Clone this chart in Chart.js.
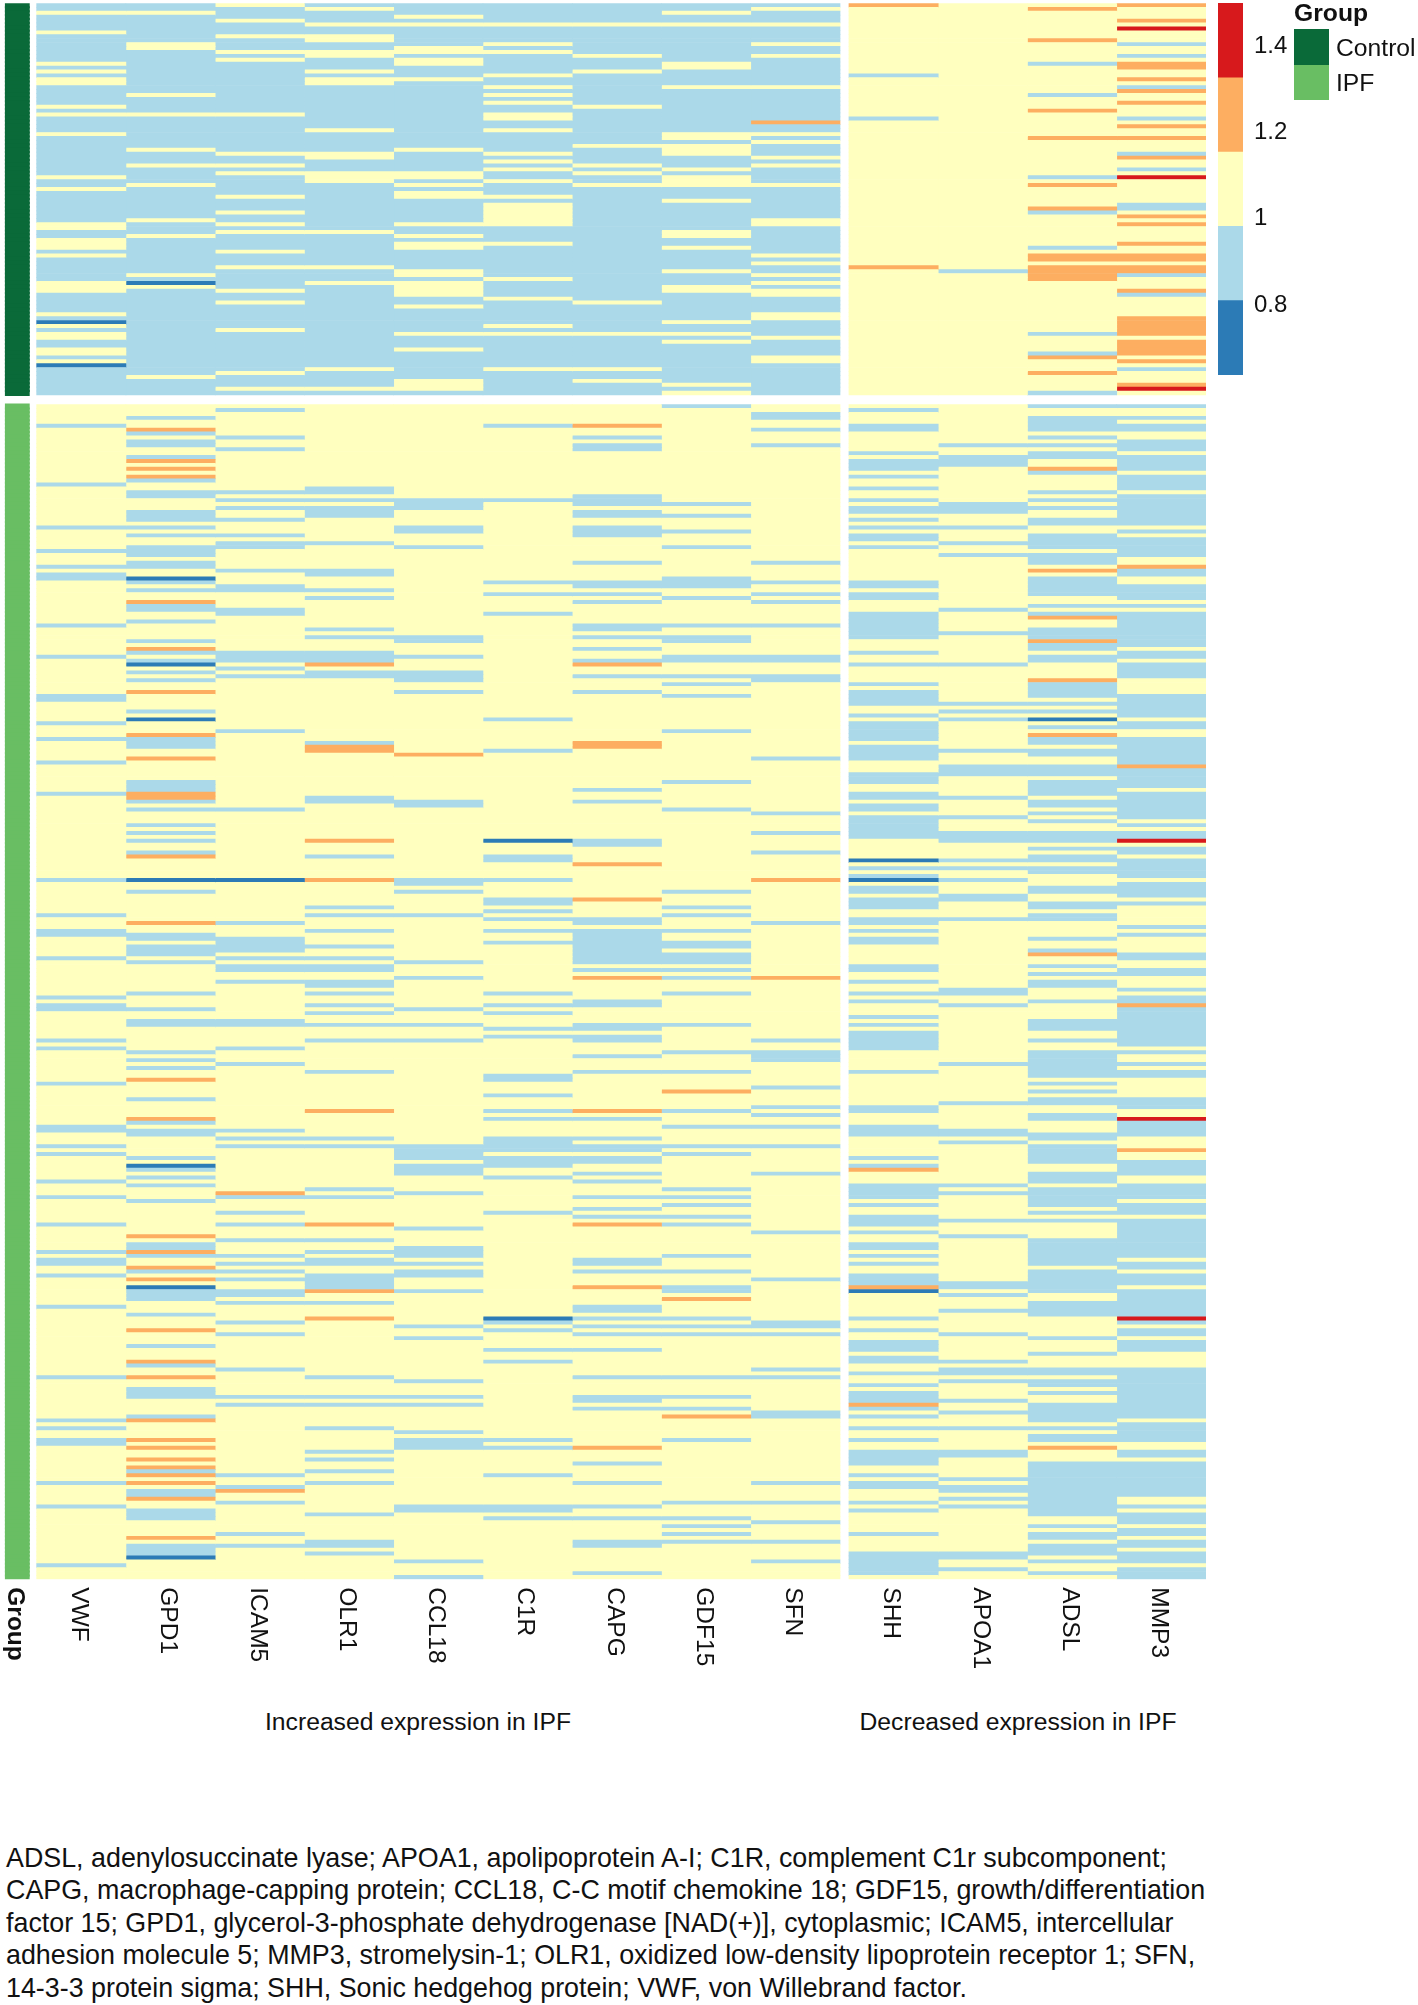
<!DOCTYPE html>
<html><head><meta charset="utf-8">
<script src="https://cdn.jsdelivr.net/npm/chart.js@4"></script>
<style>
html,body{margin:0;padding:0;background:#fff}
#page{position:relative;width:1418px;height:2005px;overflow:hidden;font-family:"Liberation Sans",Arial,sans-serif;color:#111}
canvas{position:absolute}
.t{position:absolute;white-space:nowrap;font-size:24.7px;line-height:30px}
.f{font-size:26.85px}
.b{position:absolute}
</style></head><body><div id="page">
<canvas id="heat" width="1418" height="1700" style="left:0;top:0"></canvas>
<canvas id="bar" width="80" height="372" style="left:1217.5px;top:3px"></canvas>
<div class="t" style="left:1294px;top:-2px;font-weight:bold">Group</div>
<div class="b" style="left:1294px;top:29px;width:35px;height:36px;background:#0a6a39"></div>
<div class="b" style="left:1294px;top:65px;width:35px;height:35px;background:#69be63"></div>
<div class="t" style="left:1336px;top:33px">Control</div>
<div class="t" style="left:1336px;top:68px">IPF</div>
<div class="t" style="left:418px;top:1707px;transform:translateX(-50%)">Increased expression in IPF</div>
<div class="t" style="left:1018px;top:1707px;transform:translateX(-50%)">Decreased expression in IPF</div>
<div class="t f" style="left:6px;top:1843px">ADSL, adenylosuccinate lyase; APOA1, apolipoprotein A-I; C1R, complement C1r subcomponent;</div>
<div class="t f" style="left:6px;top:1875px">CAPG, macrophage-capping protein; CCL18, C-C motif chemokine 18; GDF15, growth/differentiation</div>
<div class="t f" style="left:6px;top:1908px">factor 15; GPD1, glycerol-3-phosphate dehydrogenase [NAD(+)], cytoplasmic; ICAM5, intercellular</div>
<div class="t f" style="left:6px;top:1940px">adhesion molecule 5; MMP3, stromelysin-1; OLR1, oxidized low-density lipoprotein receptor 1; SFN,</div>
<div class="t f" style="left:6px;top:1973px">14-3-3 protein sigma; SHH, Sonic hedgehog protein; VWF, von Willebrand factor.</div>
</div>
<script>
const leftGenes = ["VWF","GPD1","ICAM5","OLR1","CCL18","C1R","CAPG","GDF15","SFN"];
const rightGenes = ["SHH","APOA1","ADSL","MMP3"];
const colorBreaks = [0.636,0.808,0.98,1.152,1.324,1.497];
const colorSteps = ["#2c7bb6","#abd9e9","#ffffbf","#fdae61","#d7191c"];
const colorTicks = [0.8,1,1.2,1.4];
const LOW=0.72, BLUE=0.9, MID=1.05, HIGH=1.24, TOP=1.41;
const CONTROL_ROWS=100, IPF_ROWS=300;

// Control samples: row numbers that differ from the panel's usual level
const VWF_c_mid=[2,7,15,17,19,20,26,28,33,44,47,56,57,60,61,62,64,71,72,73,79,82,84,85,88,89,91];
const VWF_c_low=[81,92];
const GPD1_c_mid=[2,10,11,23,28,37,41,46,55,59,69,72,95];
const GPD1_c_low=[71];
const ICAM5_c_mid=[0,4,8,12,14,28,38,41,43,49,53,56,58,63,67,73,76,83,94,98];
const OLR1_c_mid=[1,5,8,9,12,13,17,19,20,32,38,39,43,44,45,58,67,71,93,98];
const CCL18_c_mid=[3,5,11,12,14,15,19,37,43,44,46,48,49,56,59,61,62,68,69,71,72,73,74,77,84,88,96,97,98];
const C1R_c_mid=[5,10,12,18,21,23,25,28,29,32,38,40,42,45,49,51,52,53,54,55,56,61,70,75,82,84,93];
const CAPG_c_mid=[5,13,17,26,36,41,43,46,76,84,93,96];
const GDF15_c_mid=[2,5,15,16,21,33,34,36,37,38,42,44,45,46,50,58,59,62,68,72,73,81,84,86,97,99];
const SFN_c_mid=[1,5,10,13,21,33,35,39,41,46,55,56,64,66,69,71,73,74,79,80,85,90,91];
const SFN_c_high=[30];
const SHH_c_blue=[18,29];
const SHH_c_high=[0,67];
const APOA1_c_blue=[68];
const ADSL_c_blue=[15,23,44,53,62,84,89,99];
const ADSL_c_high=[1,9,27,34,46,52,64,65,67,68,69,70,90,94];
const MMP3_c_blue=[10,13,21,29,38,42,51,52,69,74,93];
const MMP3_c_high=[0,4,15,16,19,22,25,31,34,39,54,56,61,64,65,67,68,73,80,81,82,83,84,86,87,88,89,91,97];
const MMP3_c_top=[6,44,98];

// IPF samples
const VWF_i_blue=[5,20,31,37,41,43,44,56,64,74,75,81,85,91,99,121,130,134,135,141,151,153,154,162,164,173,184,185,189,191,198,202,209,216,218,219,222,230,248,259,261,264,265,275,281,296];
const GPD1_i_blue=[3,7,9,10,13,19,22,23,27,28,29,31,33,36,37,38,40,41,45,47,51,52,55,60,63,65,68,70,78,85,86,87,96,97,98,101,103,107,109,111,114,124,135,136,138,139,140,142,150,154,157,158,165,167,169,177,183,185,186,192,195,197,199,203,214,215,217,221,226,227,228,232,240,245,251,252,253,258,272,277,278,282,283,284,291,292,293];
const GPD1_i_low=[44,66,80,121,194,225,294];
const GPD1_i_high=[6,14,16,18,50,62,73,84,90,99,100,115,132,172,182,212,216,220,223,236,244,248,259,264,266,269,271,273,275,279,289];
const ICAM5_i_blue=[1,8,11,22,24,26,29,33,35,36,42,46,47,52,53,63,64,65,67,69,83,103,132,136,137,138,139,141,143,144,147,157,158,164,168,185,187,189,202,206,209,213,217,219,221,223,226,227,229,234,237,246,253,255,273,276,280,288,291];
const ICAM5_i_low=[121];
const ICAM5_i_high=[201,277];
const OLR1_i_blue=[21,22,24,26,27,28,35,42,43,47,49,57,59,63,64,65,68,69,86,100,101,115,128,130,134,138,141,143,144,147,148,150,153,155,158,162,170,187,189,200,202,213,216,218,219,222,223,224,225,229,248,253,255,261,267,269,272,275,283,290,291,293];
const OLR1_i_high=[66,87,88,111,121,180,209,226,233];
const CCL18_i_blue=[24,25,26,31,32,36,59,60,64,68,69,70,73,101,102,121,122,124,130,142,146,154,158,162,189,190,191,192,194,195,196,201,210,215,216,217,219,221,222,226,235,238,249,253,255,262,264,265,266,281,282,295,299];
const CCL18_i_high=[89];
const C1R_i_blue=[5,24,45,48,53,80,88,115,116,121,126,127,129,131,134,137,150,153,155,159,161,171,172,176,180,182,187,188,189,190,192,193,194,197,206,234,236,241,244,264,266,273,281,282,284];
const C1R_i_low=[111,233];
const CAPG_i_blue=[8,10,11,23,24,25,27,28,31,32,33,40,45,46,48,50,56,57,59,62,65,69,73,98,101,111,112,131,132,134,135,136,137,138,139,140,141,142,144,152,153,158,159,161,162,166,170,182,187,189,190,192,193,196,198,202,205,207,218,219,221,230,231,233,235,237,241,248,253,254,256,270,275,281,284,290,291,298];
const CAPG_i_high=[5,66,86,87,117,126,146,180,209,225,266];
const GDF15_i_blue=[0,25,28,32,36,44,45,46,49,56,59,60,64,65,69,71,74,83,96,103,124,128,130,134,137,138,140,141,142,144,146,150,158,165,170,180,184,189,191,200,202,204,207,209,217,221,225,226,233,235,237,248,253,256,264,280,284,286,288,290];
const GDF15_i_high=[175,228,258];
const SFN_i_blue=[2,3,6,10,40,45,48,50,56,64,65,69,70,90,104,109,114,132,162,165,166,167,174,179,181,184,189,196,211,223,234,235,237,246,248,257,258,275,280,285,290,295];
const SFN_i_high=[121,146];
const SHH_i_blue=[1,5,6,12,14,15,16,18,21,24,26,27,29,31,33,34,36,45,46,48,49,53,54,55,56,57,58,59,63,66,71,73,74,75,76,79,81,82,83,84,85,87,88,89,90,94,95,96,99,100,102,103,105,106,107,108,109,110,118,120,123,124,126,127,128,131,132,134,136,137,143,144,147,150,152,156,158,160,161,162,163,164,170,179,180,184,185,186,192,194,199,200,201,202,204,207,208,209,211,214,215,217,219,222,223,224,233,236,239,240,241,243,244,247,250,252,253,254,256,258,261,264,267,268,269,270,273,275,276,280,282,288,293,294,295,296,297,298];
const SHH_i_low=[116,121,226];
const SHH_i_high=[195,225,255];
const APOA1_i_blue=[10,13,14,15,25,26,27,31,35,38,52,58,66,76,78,80,88,92,93,94,100,105,109,110,111,116,118,121,125,126,131,149,150,153,168,178,185,186,188,199,201,208,212,224,225,227,231,237,244,246,247,249,254,257,261,267,268,274,276,277,279,281,293,294,297];
const ADSL_i_blue=[0,3,4,5,6,8,10,12,13,17,22,24,26,29,30,33,34,35,36,38,39,40,44,45,46,47,48,51,53,57,58,59,61,62,64,65,71,72,73,74,76,78,82,85,86,88,89,92,93,94,96,97,98,99,101,102,104,106,109,110,111,113,115,116,118,119,123,124,127,128,130,131,136,139,143,145,147,148,152,157,158,159,162,165,166,167,168,169,170,171,173,175,177,178,181,182,186,187,189,190,191,192,193,196,197,198,200,201,202,203,204,206,208,213,214,215,216,217,218,219,221,222,223,224,225,226,229,230,231,232,238,242,246,247,249,250,252,255,256,257,258,259,261,263,264,270,271,272,273,274,275,276,277,278,279,280,281,282,283,286,288,289,291,292,293,295,298];
const ADSL_i_low=[80];
const ADSL_i_high=[16,42,54,60,70,84,140,266];
const MMP3_i_blue=[0,3,5,6,9,10,11,13,14,15,16,18,19,20,21,23,24,25,26,27,28,29,30,32,34,35,36,37,38,42,43,46,47,48,49,51,53,54,55,56,57,58,59,60,61,63,64,66,67,68,69,74,75,76,77,78,79,81,82,85,86,87,88,89,90,91,93,94,95,96,97,99,100,101,102,103,104,105,107,109,110,113,114,116,117,118,119,120,122,123,124,125,127,133,135,140,141,144,145,149,151,152,154,155,156,157,158,159,160,161,162,163,165,168,170,171,177,178,179,183,184,185,186,193,194,195,196,199,200,201,202,204,205,206,208,209,210,211,212,213,214,215,216,217,219,220,222,223,224,226,227,228,229,230,231,232,234,236,237,239,240,241,246,247,248,249,250,251,252,253,254,255,256,257,258,260,261,262,263,264,267,268,270,271,272,273,274,275,276,277,278,281,283,284,285,287,288,290,291,293,294,295,297,298,299];
const MMP3_i_high=[41,92,153,190];
const MMP3_i_top=[111,182,233];

const cells=(n,base,...pairs)=>{const a=Array(n).fill(base);pairs.forEach(([v,rows])=>rows.forEach(r=>{a[r]=v;}));return a;};
const controlValues={
 VWF:cells(CONTROL_ROWS,BLUE,[MID,VWF_c_mid],[LOW,VWF_c_low]),
 GPD1:cells(CONTROL_ROWS,BLUE,[MID,GPD1_c_mid],[LOW,GPD1_c_low]),
 ICAM5:cells(CONTROL_ROWS,BLUE,[MID,ICAM5_c_mid]),
 OLR1:cells(CONTROL_ROWS,BLUE,[MID,OLR1_c_mid]),
 CCL18:cells(CONTROL_ROWS,BLUE,[MID,CCL18_c_mid]),
 C1R:cells(CONTROL_ROWS,BLUE,[MID,C1R_c_mid]),
 CAPG:cells(CONTROL_ROWS,BLUE,[MID,CAPG_c_mid]),
 GDF15:cells(CONTROL_ROWS,BLUE,[MID,GDF15_c_mid]),
 SFN:cells(CONTROL_ROWS,BLUE,[MID,SFN_c_mid],[HIGH,SFN_c_high]),
 SHH:cells(CONTROL_ROWS,MID,[BLUE,SHH_c_blue],[HIGH,SHH_c_high]),
 APOA1:cells(CONTROL_ROWS,MID,[BLUE,APOA1_c_blue]),
 ADSL:cells(CONTROL_ROWS,MID,[BLUE,ADSL_c_blue],[HIGH,ADSL_c_high]),
 MMP3:cells(CONTROL_ROWS,MID,[BLUE,MMP3_c_blue],[HIGH,MMP3_c_high],[TOP,MMP3_c_top])
};
const ipfValues={
 VWF:cells(IPF_ROWS,MID,[BLUE,VWF_i_blue]),
 GPD1:cells(IPF_ROWS,MID,[BLUE,GPD1_i_blue],[LOW,GPD1_i_low],[HIGH,GPD1_i_high]),
 ICAM5:cells(IPF_ROWS,MID,[BLUE,ICAM5_i_blue],[LOW,ICAM5_i_low],[HIGH,ICAM5_i_high]),
 OLR1:cells(IPF_ROWS,MID,[BLUE,OLR1_i_blue],[HIGH,OLR1_i_high]),
 CCL18:cells(IPF_ROWS,MID,[BLUE,CCL18_i_blue],[HIGH,CCL18_i_high]),
 C1R:cells(IPF_ROWS,MID,[BLUE,C1R_i_blue],[LOW,C1R_i_low]),
 CAPG:cells(IPF_ROWS,MID,[BLUE,CAPG_i_blue],[HIGH,CAPG_i_high]),
 GDF15:cells(IPF_ROWS,MID,[BLUE,GDF15_i_blue],[HIGH,GDF15_i_high]),
 SFN:cells(IPF_ROWS,MID,[BLUE,SFN_i_blue],[HIGH,SFN_i_high]),
 SHH:cells(IPF_ROWS,MID,[BLUE,SHH_i_blue],[LOW,SHH_i_low],[HIGH,SHH_i_high]),
 APOA1:cells(IPF_ROWS,MID,[BLUE,APOA1_i_blue]),
 ADSL:cells(IPF_ROWS,MID,[BLUE,ADSL_i_blue],[LOW,ADSL_i_low],[HIGH,ADSL_i_high]),
 MMP3:cells(IPF_ROWS,MID,[BLUE,MMP3_i_blue],[HIGH,MMP3_i_high],[TOP,MMP3_i_top])
};

const colorOf=v=>{for(let i=0;i<colorSteps.length;i++){if(v<colorBreaks[i+1])return colorSteps[i];}return colorSteps[colorSteps.length-1];};
const PANEL_GAP=2.45, GROUP_W=0.28, LEFT_START=0.358, RIGHT_START=9.458;
const yTotal=CONTROL_ROWS+PANEL_GAP+IPF_ROWS, xTotal=RIGHT_START+rightGenes.length;
const rowY=(panel,i)=>panel===0?i+0.5:CONTROL_ROWS+PANEL_GAP+i+0.5;
const column=(l,r,ctrl,ipf,inflate)=>{
  const pts=[...ctrl.map((c,i)=>({x:[l,r],y:rowY(0,i),c})),...ipf.map((c,i)=>({x:[l,r],y:rowY(1,i),c}))];
  return {data:pts,backgroundColor:pts.map(p=>p.c),borderWidth:0,barPercentage:1,categoryPercentage:1,grouped:false,inflateAmount:inflate};
};
const axisLabels=[{text:"Group",x:GROUP_W/2,bold:true}];
const datasets=[column(0.011,GROUP_W-0.011,Array(CONTROL_ROWS).fill("#0a6a39"),Array(IPF_ROWS).fill("#69be63"),1)];
leftGenes.forEach((g,j)=>{const l=LEFT_START+j;
  datasets.push(column(l,l+1,controlValues[g].map(colorOf),ipfValues[g].map(colorOf),"auto"));
  axisLabels.push({text:g,x:l+0.5});});
rightGenes.forEach((g,j)=>{const l=RIGHT_START+j;
  datasets.push(column(l,l+1,controlValues[g].map(colorOf),ipfValues[g].map(colorOf),"auto"));
  axisLabels.push({text:g,x:l+0.5});});

const geneLabels={id:"geneLabels",afterDraw(chart){
  const ctx=chart.ctx,sx=chart.scales.x,py=chart.chartArea.bottom+8;
  ctx.save();ctx.fillStyle="#111";ctx.textAlign="left";ctx.textBaseline="middle";
  axisLabels.forEach(a=>{
    ctx.save();ctx.translate(sx.getPixelForValue(a.x)-2.5,py);ctx.rotate(Math.PI/2);
    ctx.font=(a.bold?"bold ":"")+"24.5px 'Liberation Sans',Arial,sans-serif";
    ctx.fillText(a.text,0,0);ctx.restore();
  });ctx.restore();
}};
new Chart(document.getElementById("heat"),{type:"bar",plugins:[geneLabels],data:{datasets},options:{
  indexAxis:"y",responsive:false,animation:false,devicePixelRatio:1,
  layout:{padding:{left:4.7,top:3.3,right:1418-1206,bottom:1700-1579.3}},
  plugins:{legend:{display:false},tooltip:{enabled:false}},
  scales:{x:{type:"linear",min:0,max:xTotal,display:false},
          y:{type:"linear",min:0,max:yTotal,reverse:true,offset:false,display:false}}
}});

const barSets=colorSteps.map((c,i)=>({data:[[colorBreaks[i],colorBreaks[i+1]]],backgroundColor:c,borderWidth:0,barPercentage:1,categoryPercentage:1,grouped:false}));
new Chart(document.getElementById("bar"),{type:"bar",data:{labels:["value"],datasets:barSets},options:{
  responsive:false,animation:false,devicePixelRatio:1,
  plugins:{legend:{display:false},tooltip:{enabled:false}},
  scales:{x:{display:false},
    y:{position:"right",min:colorBreaks[0],max:colorBreaks[5],grid:{display:false},border:{display:false},
       afterBuildTicks(s){s.ticks=colorTicks.map(v=>({value:v}));},
       afterFit(s){s.width=55;s.paddingTop=0;s.paddingBottom=0;},
       ticks:{padding:3,labelOffset:1,color:"#111",font:{family:"'Liberation Sans',Arial,sans-serif",size:24},callback:v=>String(v)}}}
}});
</script></body></html>
